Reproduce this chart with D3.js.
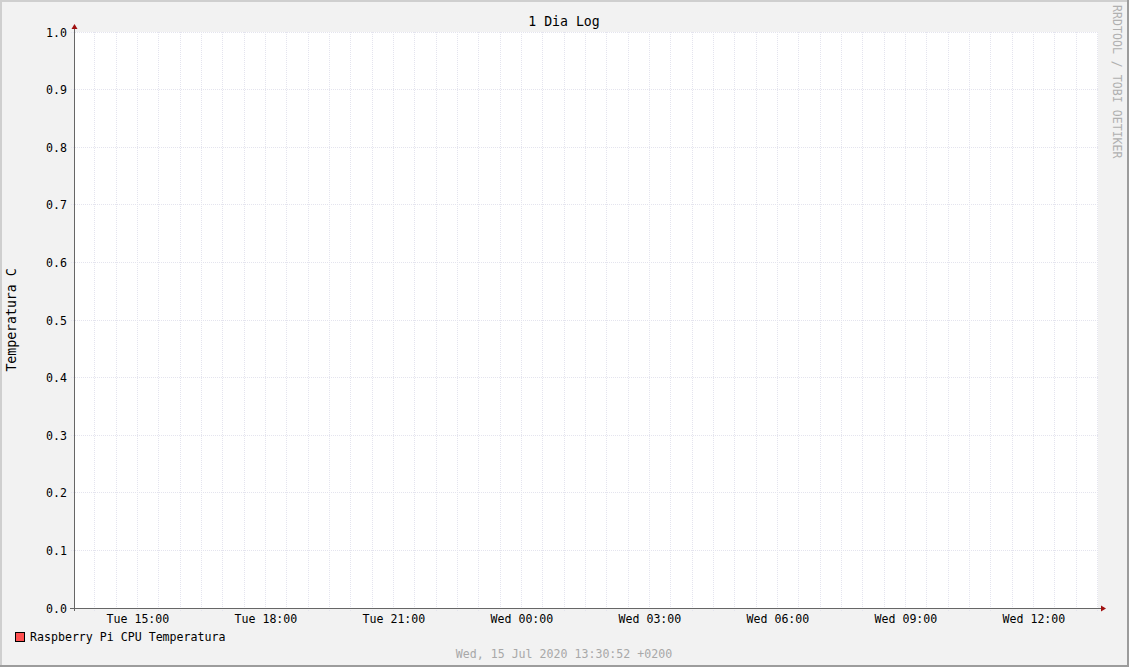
<!DOCTYPE html>
<html>
<head>
<meta charset="utf-8">
<script src="https://cdn.jsdelivr.net/npm/d3@7"></script>
<style>
  html, body { margin: 0; padding: 0; background: #fff; }
  svg { display: block; }
  text { font-family: "DejaVu Sans Mono", monospace; }
</style>
</head>
<body>
<svg id="chart" width="1129" height="667"></svg>
<script>
// ---- data ----
const chartTitle = "1 Dia Log";
const yAxisTitle = "Temperatura C";
const seriesNames = ["Raspberry Pi CPU Temperatura"];
const seriesColors = ["#FF5050"];
const temperatureValues = []; // no data recorded in this period
const timeStart = new Date(2020, 6, 14, 13, 30, 52);
const timeEnd = new Date(2020, 6, 15, 13, 30, 52);
const yDomain = [0, 1];
const yTickValues = [0, 0.1, 0.2, 0.3, 0.4, 0.5, 0.6, 0.7, 0.8, 0.9, 1.0];
const footerText = "Wed, 15 Jul 2020 13:30:52 +0200";
const watermark = "RRDTOOL / TOBI OETIKER";

// ---- layout ----
const W = 1129, H = 667;
const plot = { left: 74, right: 1098, top: 32, bottom: 608 };
const svg = d3.select("#chart");

// background & border
svg.append("rect").attr("x", 0).attr("y", 0).attr("width", W).attr("height", H).attr("fill", "#F2F2F2");
svg.append("path").attr("d", `M1,${H} V1 H${W}`).attr("stroke", "#CFCFCF").attr("stroke-width", 2).attr("fill", "none");
svg.append("path").attr("d", `M0,${H-1} H${W-1} V0`).attr("stroke", "#9C9C9C").attr("stroke-width", 2).attr("fill", "none");

// canvas
svg.append("rect").attr("x", plot.left).attr("y", plot.top)
  .attr("width", plot.right - plot.left).attr("height", plot.bottom - plot.top).attr("fill", "#FFFFFF");

const x = d3.scaleTime().domain([timeStart, timeEnd]).range([plot.left, plot.right]);
const y = d3.scaleLinear().domain(yDomain).range([plot.bottom, plot.top]);

const px = v => Math.round(v) + 0.5;
const gridColor = "#E4E4EE";

// vertical grid (every 30 minutes)
const minorTimes = x.ticks(d3.timeMinute.every(30));
svg.append("g").selectAll("line").data(minorTimes).join("line")
  .attr("x1", d => px(x(d) - 0.5)).attr("x2", d => px(x(d) - 0.5))
  .attr("y1", plot.top).attr("y2", plot.bottom + 3)
  .attr("stroke", gridColor).attr("stroke-width", 1).attr("stroke-dasharray", "1,1");

// horizontal grid
svg.append("g").selectAll("line").data(yTickValues).join("line")
  .attr("x1", plot.left - 3).attr("x2", plot.right)
  .attr("y1", d => px(y(d) - 0.5)).attr("y2", d => px(y(d) - 0.5))
  .attr("stroke", gridColor).attr("stroke-width", 1).attr("stroke-dasharray", "1,1");

// data line (empty)
const line = d3.line().x(d => x(d.t)).y(d => y(d.v)).defined(d => d.v != null);
svg.append("path").datum(temperatureValues).attr("d", line)
  .attr("fill", "none").attr("stroke", seriesColors[0]).attr("stroke-width", 1);

// y tick labels
const yAxis = d3.axisLeft(y).tickValues(yTickValues).tickFormat(d3.format(".1f")).tickSize(0).tickPadding(0);
const gy = svg.append("g").attr("transform", `translate(${plot.left - 7},0)`).call(yAxis);
gy.select(".domain").remove();
gy.selectAll("text").attr("font-family", "DejaVu Sans Mono").attr("font-size", "11.6px").attr("fill", "#000")
  .attr("dy", "0.36em").attr("text-anchor", "end");

// x labels every 3 hours
const xAxis = d3.axisBottom(x).ticks(d3.timeHour.every(3)).tickFormat(d3.timeFormat("%a %H:%M")).tickSize(0).tickPadding(0);
const gx = svg.append("g").attr("transform", `translate(0,${plot.bottom + 7})`).call(xAxis);
gx.select(".domain").remove();
gx.selectAll("text").attr("font-family", "DejaVu Sans Mono").attr("font-size", "11.6px").attr("fill", "#000")
  .attr("dy", "0.71em");

// axes
svg.append("line").attr("x1", plot.left - 4).attr("x2", plot.right + 3)
  .attr("y1", plot.bottom + 0.5).attr("y2", plot.bottom + 0.5).attr("stroke", "#666666").attr("stroke-width", 1);
svg.append("line").attr("x1", plot.left + 0.5).attr("x2", plot.left + 0.5)
  .attr("y1", plot.bottom + 3).attr("y2", plot.top - 3).attr("stroke", "#666666").attr("stroke-width", 1);
// arrows
svg.append("path").attr("d", `M${plot.right + 3},${plot.bottom - 2.5} L${plot.right + 8},${plot.bottom + 0.5} L${plot.right + 3},${plot.bottom + 3.5} Z`)
  .attr("fill", "#A01010");
svg.append("path").attr("d", `M${plot.left - 2.5},${plot.top - 3} L${plot.left + 0.5},${plot.top - 8} L${plot.left + 3.5},${plot.top - 3} Z`)
  .attr("fill", "#A01010");

// title
svg.append("text").attr("x", 564).attr("y", 21).attr("dy", "0.36em").attr("text-anchor", "middle")
  .attr("font-size", "13.2px").attr("fill", "#000").text(chartTitle);

// y axis title
svg.append("text").attr("transform", "translate(11,320) rotate(-90)").attr("dy", "0.36em")
  .attr("text-anchor", "middle").attr("font-size", "13.2px").attr("fill", "#000").text(yAxisTitle);

// watermark
svg.append("text").attr("transform", "translate(1117,5) rotate(90)").attr("dy", "0.36em")
  .attr("text-anchor", "start").attr("font-size", "11.6px").attr("fill", "#B0B0B0").text(watermark);

// legend
const leg = svg.append("g").selectAll("g").data(seriesNames).join("g")
  .attr("transform", (d, i) => `translate(15,${632 + i * 16})`);
leg.append("rect").attr("x", 0.5).attr("y", 0.5).attr("width", 9).attr("height", 9)
  .attr("fill", (d, i) => seriesColors[i]).attr("stroke", "#000").attr("stroke-width", 1);
leg.append("text").attr("x", 15).attr("y", 5).attr("dy", "0.36em").attr("font-size", "11.6px")
  .attr("fill", "#000").text(d => d);

// footer
svg.append("text").attr("x", 564).attr("y", 654).attr("dy", "0.36em").attr("text-anchor", "middle")
  .attr("font-size", "11.6px").attr("fill", "#A8A8A8").text(footerText);
</script>
</body>
</html>
